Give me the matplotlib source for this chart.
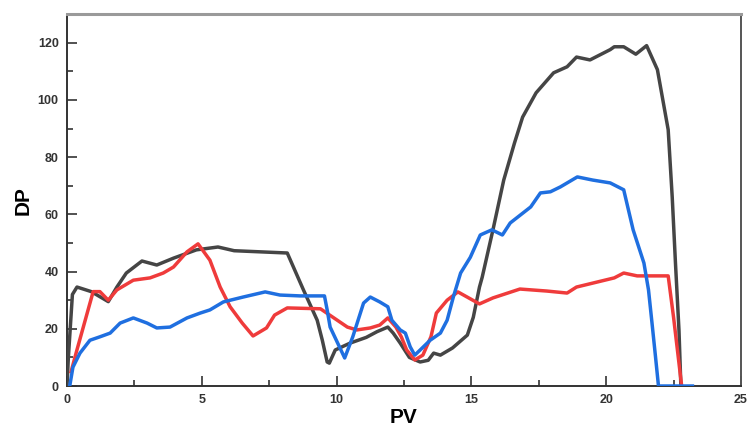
import matplotlib
matplotlib.use("Agg")
import matplotlib.pyplot as plt
from matplotlib.ticker import MultipleLocator

plt.rcParams["font.family"] = ["Liberation Sans", "DejaVu Sans"]

# Differential pressure (DP) versus pore volume (PV) for three runs
black_pv = [0.0, 0.05, 0.2, 0.37, 0.9, 1.53, 1.85, 2.2, 2.78, 3.33, 3.95, 4.8, 5.6, 6.2,
            8.17, 8.77, 9.28, 9.47, 9.65, 9.73, 9.95, 10.5, 11.1, 11.5, 11.9, 12.1,
            12.36, 12.7, 13.1, 13.4, 13.6, 13.85, 14.3, 14.85, 15.07, 15.3, 15.4,
            15.8, 16.2, 16.6, 16.9, 17.4, 18.05, 18.55, 18.9, 19.4, 20.15, 20.3,
            20.65, 21.1, 21.5, 21.9, 22.3, 22.45, 22.57, 22.7, 22.77]
black_dp = [0.0, 10.0, 32.0, 34.6, 33.0, 29.5, 34.6, 39.5, 43.7, 42.3, 44.7, 47.6, 48.6, 47.3,
            46.5, 33.6, 23.0, 16.0, 8.4, 8.0, 12.6, 15.0, 17.0, 19.0, 20.6, 18.5,
            15.0, 10.0, 8.4, 9.0, 11.5, 10.8, 13.3, 17.8, 24.0, 34.6, 38.0,
            54.6, 72.0, 85.0, 94.0, 102.5, 109.5, 111.6, 115.0, 114.0, 117.6, 118.6,
            118.6, 116.0, 119.0, 110.6, 89.6, 66.0, 43.0, 19.6, 0.3]

red_pv = [0.15, 0.35, 0.97, 1.22, 1.53, 1.85, 2.46, 3.08, 3.57, 3.95, 4.45, 4.86, 5.3,
          5.68, 6.05, 6.5, 6.9, 7.4, 7.7, 8.17, 9.4, 9.9, 10.4, 10.75, 11.25, 11.6,
          11.9, 12.2, 12.4, 12.6, 12.9, 13.2, 13.5, 13.7, 14.1, 14.5, 15.3, 15.8,
          16.8, 17.8, 18.55, 18.9, 20.3, 20.65, 21.15, 22.3, 22.5, 22.8]
red_dp = [5.0, 12.0, 33.0, 33.0, 30.0, 33.6, 37.0, 37.8, 39.5, 41.6, 46.9, 49.7, 44.0,
          34.6, 27.7, 22.0, 17.5, 20.3, 24.8, 27.3, 27.0, 23.8, 20.6, 19.6, 20.3, 21.3,
          23.8, 20.6, 17.2, 12.6, 9.1, 10.8, 17.2, 25.5, 30.0, 32.9, 28.7, 30.8,
          33.9, 33.2, 32.5, 34.6, 37.8, 39.5, 38.5, 38.5, 24.0, 0.0]

blue_pv = [0.1, 0.22, 0.48, 0.85, 1.22, 1.6, 1.97, 2.46, 2.97, 3.33, 3.82, 4.45, 4.94,
           5.3, 5.8, 6.53, 7.35, 7.9, 8.65, 9.55, 9.65, 9.76, 10.3, 10.6, 11.0, 11.25,
           11.6, 11.9, 12.05, 12.36, 12.55, 12.73, 12.9, 13.1, 13.47, 13.85, 14.1,
           14.33, 14.6, 14.96, 15.33, 15.76, 16.15, 16.44, 17.2, 17.56, 17.93, 18.3,
           18.93, 19.5, 20.15, 20.65, 21.0, 21.4, 21.57, 21.7, 21.83, 21.94, 23.2]
blue_dp = [0.0, 6.6, 11.5, 16.0, 17.2, 18.5, 22.0, 23.8, 22.0, 20.3, 20.6, 23.8, 25.5,
           26.6, 29.4, 31.1, 32.9, 31.8, 31.5, 31.5, 26.6, 20.6, 9.8, 17.2, 29.0, 31.1,
           29.4, 27.7, 23.0, 19.6, 18.5, 13.7, 10.8, 12.6, 16.0, 18.5, 23.0,
           31.1, 39.5, 45.0, 52.8, 54.6, 52.8, 57.0, 62.6, 67.5, 67.9, 69.6,
           73.1, 72.0, 71.0, 68.6, 54.6, 43.0, 33.6, 22.0, 10.2, 0.0, 0.0]

x_ticks = [0, 5, 10, 15, 20, 25]
y_ticks = [0, 20, 40, 60, 80, 100, 120]

fig = plt.figure(figsize=(7.48, 4.29), dpi=100)
ax = fig.add_axes([0.0896, 0.1002, 0.9010, 0.8668])

lw = 2.5
ax.plot(black_pv, black_dp, color="#454545", lw=lw, solid_joinstyle="round", zorder=3)
ax.plot(red_pv, red_dp, color="#ef3b3b", lw=lw, solid_joinstyle="round", zorder=4)
ax.plot(blue_pv, blue_dp, color="#1f6fe0", lw=lw, solid_joinstyle="round", zorder=5)

ax.set_xlim(0, 25)
ax.set_ylim(0, 130)
ax.set_xticks(x_ticks)
ax.set_yticks(y_ticks)
ax.xaxis.set_minor_locator(MultipleLocator(2.5))
ax.yaxis.set_minor_locator(MultipleLocator(10))

ax.tick_params(which="both", direction="in", colors="#333333", width=1.2)
ax.tick_params(which="major", length=7, labelsize=9, pad=6)
ax.tick_params(which="minor", length=4)
for lab in ax.get_xticklabels() + ax.get_yticklabels():
    lab.set_fontweight("bold")
    lab.set_color("#333333")

ax.set_xlabel("PV", fontsize=15, fontweight="bold", labelpad=1)
ax.set_ylabel("DP", fontsize=15, fontweight="bold", labelpad=4)

for side in ("left", "bottom"):
    ax.spines[side].set_color("#333333")
    ax.spines[side].set_linewidth(1.4)
ax.spines["top"].set_color("#9a9a9a")
ax.spines["top"].set_linewidth(2.2)
ax.spines["right"].set_color("#555555")
ax.spines["right"].set_linewidth(1.4)

fig.savefig("out.png", dpi=100)
